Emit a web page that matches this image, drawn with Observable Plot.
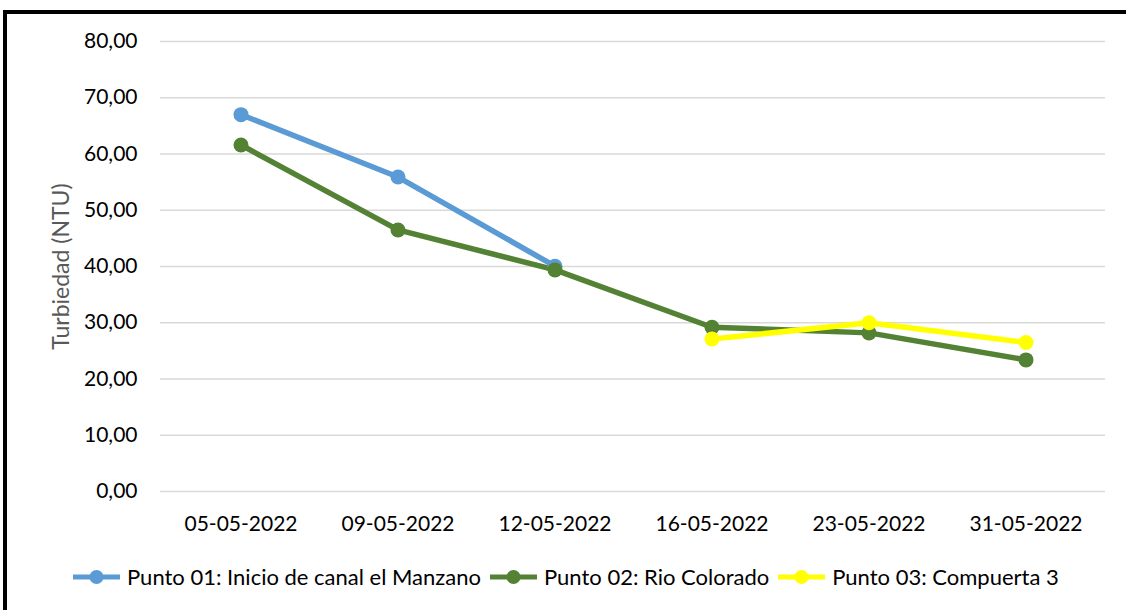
<!DOCTYPE html>
<html>
<head>
<meta charset="utf-8">
<script src="https://cdn.jsdelivr.net/npm/d3@7"></script>
<script src="https://cdn.jsdelivr.net/npm/@observablehq/plot@0.6"></script>
<style>
  html, body { margin: 0; padding: 0; background: #fff; }
  #wrap { position: relative; width: 1126px; height: 610px; overflow: hidden; font-family: Lato, "Open Sans", sans-serif; }
  #frame { position: absolute; left: 3px; top: 10px; width: 1200px; height: 700px; border-left: 4px solid #000; border-top: 4px solid #000; box-sizing: border-box; }
  #chart { position: absolute; left: 0; top: 0; }
  #legend { position: absolute; left: 73px; top: 563px; display: flex; gap: 9px; font-size: 22px; color: #000; white-space: nowrap; }
  .item { display: flex; align-items: center; gap: 7px; }
  .item svg { display: block; }
</style>
</head>
<body>
<div id="wrap">
  <div id="frame"></div>
  <div id="chart"></div>
  <div id="legend"></div>
</div>
<script>
const fechas = ["05-05-2022", "09-05-2022", "12-05-2022", "16-05-2022", "23-05-2022", "31-05-2022"];
const seriesNames = ["Punto 01: Inicio de canal el Manzano", "Punto 02: Rio Colorado", "Punto 03: Compuerta 3"];
const seriesColors = ["#5b9bd5", "#548235", "#ffff00"];
const punto01 = [67.0, 55.9, 40.05, null, null, null];
const punto02 = [61.6, 46.5, 39.4, 29.2, 28.2, 23.4];
const punto03 = [null, null, null, 27.1, 30.0, 26.5];
const yTicks = [0, 10, 20, 30, 40, 50, 60, 70, 80];
const yLabel = "Turbiedad (NTU)";

const allSeries = [punto01, punto02, punto03];
const rows = [];
allSeries.forEach((vals, si) => {
  vals.forEach((v, i) => {
    if (v != null) rows.push({fecha: fechas[i], valor: v, serie: seriesNames[si]});
  });
});

const fmt = v => d3.format(".2f")(v).replace(".", ",");

const chart = Plot.plot({
  width: 1126,
  height: 545,
  marginTop: 41,
  marginBottom: 54,
  marginLeft: 160,
  marginRight: 21,
  style: {fontFamily: "Lato, 'Open Sans', sans-serif", fontSize: "21px", color: "#000", background: "transparent"},
  x: {type: "band", domain: fechas, padding: 0, label: null},
  y: {domain: [0, 80], label: null},
  color: {domain: seriesNames, range: seriesColors},
  marks: [
    Plot.gridY(yTicks, {stroke: "#d9d9d9", strokeOpacity: 1, strokeWidth: 1.3}),
    Plot.axisX({tickSize: 0, tickPadding: 25, fontSize: 21, label: null}),
    Plot.axisY({ticks: yTicks, tickFormat: fmt, tickSize: 0, tickPadding: 23, fontSize: 21, label: null}),
    Plot.line(rows, {x: "fecha", y: "valor", z: "serie", stroke: "serie", strokeWidth: 5.5, strokeLinejoin: "round", strokeLinecap: "round"}),
    Plot.dot(rows, {x: "fecha", y: "valor", fill: "serie", r: 7.5, stroke: "none"}),
    Plot.text([yLabel], {frameAnchor: "left", textAnchor: "middle", dx: -99, rotate: -90, fill: "#595959", fontSize: 23})
  ]
});
document.getElementById("chart").appendChild(chart);

const legend = document.getElementById("legend");
seriesNames.forEach((name, i) => {
  const item = document.createElement("div");
  item.className = "item";
  item.innerHTML = `<svg width="47" height="16"><line x1="0" y1="8" x2="47" y2="8" stroke="${seriesColors[i]}" stroke-width="5"/><circle cx="23.5" cy="8" r="7" fill="${seriesColors[i]}"/></svg><span>${name}</span>`;
  legend.appendChild(item);
});
</script>
</body>
</html>
